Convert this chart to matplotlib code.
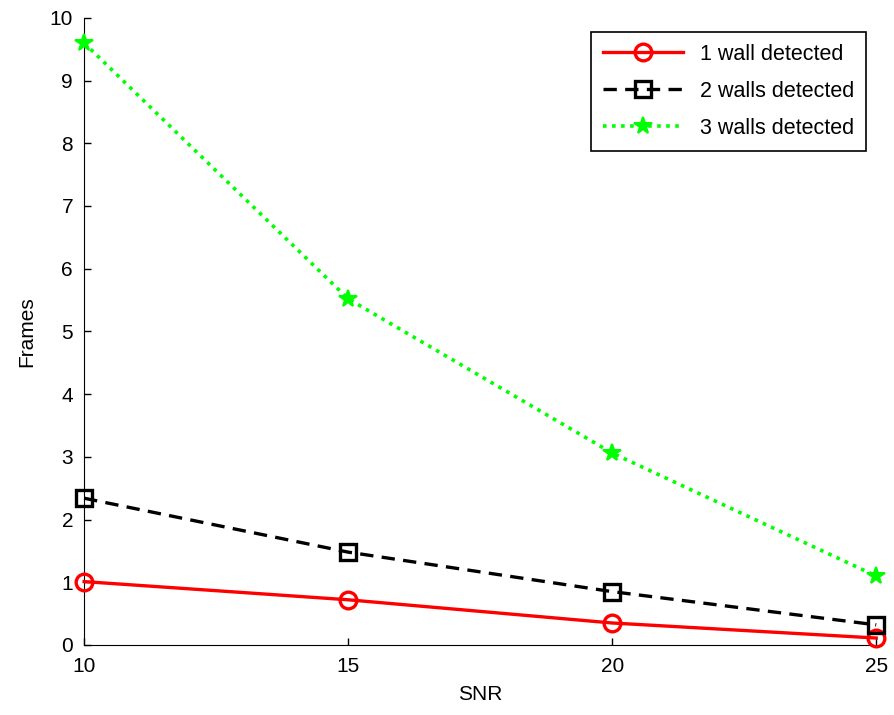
import matplotlib
matplotlib.use("Agg")
import matplotlib.pyplot as plt

snr = [10, 15, 20, 25]
one_wall = [1.01, 0.72, 0.35, 0.11]
two_walls = [2.34, 1.48, 0.85, 0.32]
three_walls = [9.6, 5.52, 3.06, 1.1]
labels = ["1 wall detected", "2 walls detected", "3 walls detected"]

plt.rcParams['font.family'] = ['Liberation Sans', 'DejaVu Sans']

fig = plt.figure(figsize=(8.95, 7.15), dpi=100)
ax = fig.add_axes([0.094, 0.098, 0.885, 0.877])

ax.plot(snr, one_wall, color='#ff0000', linestyle='-', linewidth=2.4,
        marker='o', markersize=12, markerfacecolor='none', markeredgewidth=2.4,
        label=labels[0], clip_on=False, zorder=3)
ax.plot(snr, two_walls, color='black', linestyle=(0, (4, 2.5)), linewidth=2.4,
        marker='s', markersize=11, markerfacecolor='none', markeredgewidth=2.4,
        label=labels[1], clip_on=False, zorder=3)
ax.plot(snr, three_walls, color='#00ff00', linestyle=(0, (1, 1.5)), linewidth=2.6,
        marker='*', markersize=13, markeredgewidth=1.5,
        label=labels[2], clip_on=False, zorder=3)

ax.set_xlim(10, 25)
ax.set_ylim(0, 10)
ax.set_xticks([10, 15, 20, 25])
ax.set_yticks(range(0, 11))
ax.tick_params(direction='in', length=5, labelsize=15, width=1)
ax.tick_params(axis='x', pad=9)
ax.tick_params(axis='y', pad=8)
ax.spines['top'].set_visible(False)
ax.spines['right'].set_visible(False)
ax.set_xlabel('SNR', fontsize=15, labelpad=6)
ax.set_ylabel('Frames', fontsize=15, labelpad=10)

leg = ax.legend(loc='upper right', bbox_to_anchor=(0.987, 0.978), borderaxespad=0,
                fontsize=15.5, fancybox=False, edgecolor='black', framealpha=1,
                handlelength=3.7, borderpad=0.55, labelspacing=0.75)
leg.get_frame().set_linewidth(1.2)

fig.savefig('out.png', dpi=100)
